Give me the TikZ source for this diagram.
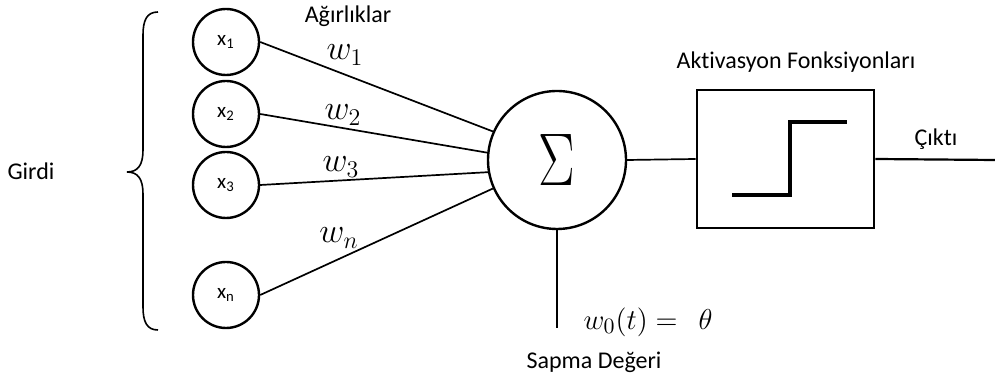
\documentclass[tikz,border=0pt]{standalone}
\usepackage[no-math]{fontspec}
\setmainfont[Ligatures=NoCommon]{Carlito}
\usepackage{amsmath}
\usetikzlibrary{positioning}

\begin{document}
\begin{tikzpicture}[x=0.5pt,y=-0.5pt,
  input/.style={draw,circle,line width=1.2pt,minimum size=33pt,inner sep=0pt,
    font=\fontsize{10.5}{12}\selectfont},
  txt/.style={font=\fontsize{12}{14}\selectfont},
  weight/.style={font=\fontsize{16.5}{18}\selectfont},
  link/.style={line width=0.85pt}]

% Canvas (pixel units)
\useasboundingbox (0,0) rectangle (995,383);

% Input neurons
\node[input] (x1) at (226,42)  {x\textsubscript{1}};
\node[input] (x2) at (226,114) {x\textsubscript{2}};
\node[input] (x3) at (226,185) {x\textsubscript{3}};
\node[input] (xn) at (226,295) {x\textsubscript{n}};

% Summation node
\node[draw,circle,line width=1.2pt,minimum size=69pt,inner sep=0pt] (sum) at (557,160)
  {\fontsize{24}{26}\selectfont\scalebox{1.1}[1.5]{$\Sigma$}};

% Activation box with step function
\node[draw,line width=1.3pt,minimum width=88.5pt,minimum height=69pt,inner sep=0pt]
  (act) at (785.5,159) {};
\draw[line width=2pt] (732,195) -- (790,195) -- (790,122) -- (847,122);

% Weighted connections
\draw[link] (x1.east) -- (sum.156);
\draw[link] (x2.east) -- (sum.174);
\draw[link] (x3.east) -- (sum.190);
\draw[link] (xn.east) -- (sum.204);

% Weight labels
\node[weight] (w1) at (345,55)  {$w_1$};
\node[weight] (w2) at (343,115) {$w_2$};
\node[weight] (w3) at (341,167) {$w_3$};
\node[weight] (wn) at (339,238) {$w_n$};

% Sum to activation, activation to output
\coordinate (out) at (995,160);
\draw[link] (sum.east) -- (act.west);
\draw[line width=1.1pt] (act.east) -- (out);

% Bias
\coordinate (bias) at (557,328);
\draw[link] (sum.south) -- (bias);
\node[weight,font=\fontsize{15.5}{17}\selectfont] (w0) at (648,322) {$w_0(t) =\;\, \theta$};

% Input brace
\draw[line width=0.8pt] (158,12) .. controls (147,12) and (143,20) .. (143,35)
  -- (143,150) .. controls (143,165) and (138,172) .. (127,172)
  .. controls (138,172) and (143,179) .. (143,194)
  -- (143,307) .. controls (143,322) and (147,330) .. (158,330);

% Text labels
\node[txt] (girdi) at (31,171)  {Girdi};
\node[txt] (agir)  at (348,16)  {Ağırlıklar};
\node[txt] (aktiv) at (796,62)  {Aktivasyon Fonksiyonları};
\node[txt] (cikti) at (936,139) {Çıktı};
\node[txt] (sapma) at (594,362) {Sapma Değeri};

\end{tikzpicture}
\end{document}
